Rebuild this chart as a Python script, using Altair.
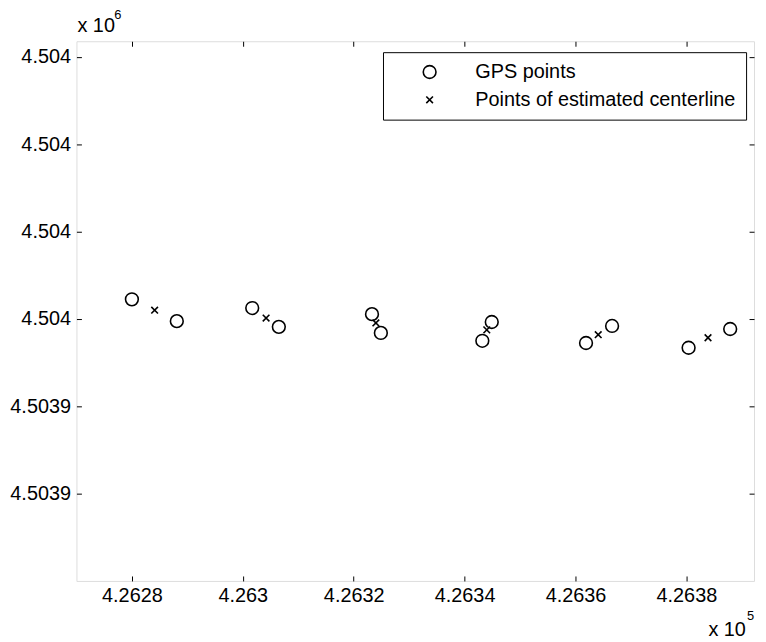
import altair as alt
import pandas as pd

# ---- data (metres, UTM-like coordinates) ----
gps_x = [426280.0, 426288.1, 426301.7, 426306.5, 426323.3, 426324.9,
         426343.2, 426344.9, 426361.9, 426366.6, 426380.4, 426387.9]
gps_y = [4503964.5, 4503959.5, 4503962.5, 4503958.2, 4503961.1, 4503956.8,
         4503955.0, 4503959.3, 4503954.5, 4503958.4, 4503953.4, 4503957.7]
cl_x = [426284.1, 426304.2, 426324.0, 426344.0, 426364.1, 426383.9]
cl_y = [4503962.0, 4503960.2, 4503959.1, 4503957.5, 4503956.4, 4503955.7]
series_names = ["GPS points", "Points of estimated centerline"]
x_ticks = [426280, 426300, 426320, 426340, 426360, 426380]
y_ticks = [4503920, 4503940, 4503960, 4503980, 4504000, 4504020]
x_domain = [426270, 426392.2]
y_domain = [4503900, 4504023.6]
x_exp_label = ["x 10", "5"]
y_exp_label = ["x 10", "6"]

FONT = "Liberation Sans"
FS = 20

df = pd.DataFrame({
    "x": gps_x + cl_x,
    "y": gps_y + cl_y,
    "series": [series_names[0]] * len(gps_x) + [series_names[1]] * len(cl_x),
})

cross_path = "M-1,-1L1,1M-1,1L1,-1"

xs = alt.Scale(domain=x_domain, nice=False, zero=False)
ys = alt.Scale(domain=y_domain, nice=False, zero=False)

common_axis = dict(tickSize=5, offset=-5, domain=False, grid=False,
                   tickColor="black", tickWidth=1, labelColor="black",
                   labelFont=FONT, labelFontSize=FS, title=None,
                   labelFlush=False, labelOverlap=False)

x_bottom = alt.X("x:Q", scale=xs, axis=alt.Axis(
    orient="bottom", values=x_ticks, labelPadding=5,
    labelExpr="format(datum.value / 1e5, '.5~g')", **common_axis))
y_left = alt.Y("y:Q", scale=ys, axis=alt.Axis(
    orient="left", values=y_ticks, labelPadding=6,
    labelExpr="format(datum.value / 1e6, '.5~g')", **common_axis))

legend = alt.Legend(
    title=None, orient="none", legendX=309, legendY=11,
    strokeColor="black", fillColor="white", padding=10,
    symbolOffset=27, labelOffset=36, rowPadding=8, labelLimit=0,
    labelFont=FONT, labelFontSize=FS, labelColor="black",
    symbolStrokeColor="black", symbolFillColor="transparent",
    symbolStrokeWidth=1.6, cornerRadius=0,
)

points = alt.Chart(df).mark_point(filled=False, color="black", strokeWidth=1.6, opacity=1).encode(
    x=x_bottom,
    y=y_left,
    shape=alt.Shape("series:N", scale=alt.Scale(domain=series_names, range=["circle", cross_path]), legend=legend),
    size=alt.Size("series:N", scale=alt.Scale(domain=series_names, range=[165, 45]), legend=legend),
)

x_top = alt.X("x:Q", scale=xs, axis=alt.Axis(orient="top", values=x_ticks, labels=False,
                                            tickSize=5, offset=-5, domain=False, grid=False,
                                            tickColor="black", title=None))
y_right = alt.Y("y:Q", scale=ys, axis=alt.Axis(orient="right", values=y_ticks, labels=False,
                                              tickSize=5, offset=-5, domain=False, grid=False,
                                              tickColor="black", title=None))
frame_ticks = alt.Chart(df).mark_point(opacity=0).encode(x=x_top, y=y_right)

ann = pd.DataFrame({"a": [0]})
def txt(s, px, py, fs, align="left"):
    return alt.Chart(ann).mark_text(font=FONT, fontSize=fs, color="black",
                                    align=align, baseline="middle").encode(
        x=alt.value(px), y=alt.value(py), text=alt.value(s))

annotations = [
    txt(y_exp_label[0], 1, -15, FS),
    txt(y_exp_label[1], 38, -26, 13),
    txt(x_exp_label[0], 637, 593, FS),
    txt(x_exp_label[1], 676, 579, 13),
]

chart = alt.layer(points, frame_ticks, *annotations).resolve_axis(
    x="independent", y="independent"
).properties(
    width=683, height=544,
    padding={"left": 69, "top": 31, "right": 4, "bottom": 58},
    autosize=alt.AutoSizeParams(type="none"),
).configure_view(
    stroke="black", strokeWidth=2
).configure(background="white")

chart.save("out.html", embed_options={"renderer": "svg", "actions": False})
